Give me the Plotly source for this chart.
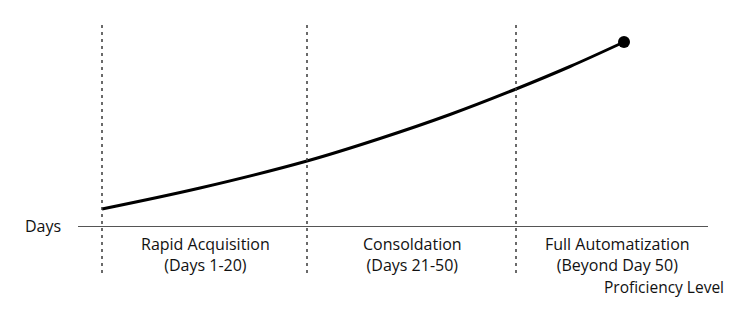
import plotly.graph_objects as go

# Curve values (proficiency position vs. height above the baseline)
prof_x = [102, 200, 307, 380, 450, 516, 570, 624]
days_y = [17.5, 38.5, 65.5, 88, 112, 137.5, 160, 184.5]

# Phase boundaries and labels
boundaries = [102, 307, 516]
phase_centers = [205, 412, 617.5]
phase_labels = ["Rapid Acquisition<br>(Days 1-20)",
                "Consoldation<br>(Days 21-50)",
                "Full Automatization<br>(Beyond Day 50)"]

FONT = "Open Sans"
fig = go.Figure()

fig.add_trace(go.Scatter(x=prof_x, y=days_y, mode="lines",
                         line=dict(color="black", width=3, shape="spline"),
                         hoverinfo="skip"))
fig.add_trace(go.Scatter(x=[prof_x[-1]], y=[days_y[-1]], mode="markers",
                         marker=dict(color="black", size=12),
                         hoverinfo="skip"))

# baseline axis
fig.add_shape(type="line", x0=78, x1=708, y0=0, y1=0,
              line=dict(color="#555555", width=1.2))
for b in boundaries:
    fig.add_shape(type="line", x0=b, x1=b, y0=201.5, y1=-48.5,
                  line=dict(color="#3a3a3a", width=1.5, dash="3px,4px"))

for cx, lab in zip(phase_centers, phase_labels):
    fig.add_annotation(x=cx, y=-27.5, text=lab, showarrow=False,
                       font=dict(family=FONT, size=16, color="#111111"),
                       align="center", yanchor="middle", xanchor="center")

fig.add_annotation(x=43, y=0.5, text="Days", showarrow=False,
                   font=dict(family=FONT, size=16, color="#111111"),
                   xanchor="center", yanchor="middle")
fig.add_annotation(x=726, y=-60, text="Proficiency Level", showarrow=False,
                   font=dict(family=FONT, size=15.5, color="#111111"),
                   xanchor="right", yanchor="middle")

fig.update_layout(
    width=740, height=324,
    margin=dict(l=0, r=0, t=0, b=0),
    paper_bgcolor="white", plot_bgcolor="white",
    showlegend=False,
    xaxis=dict(range=[0, 740], visible=False, fixedrange=True),
    yaxis=dict(range=[-97.5, 226.5], visible=False, fixedrange=True),
)

fig.write_html("out.html")
